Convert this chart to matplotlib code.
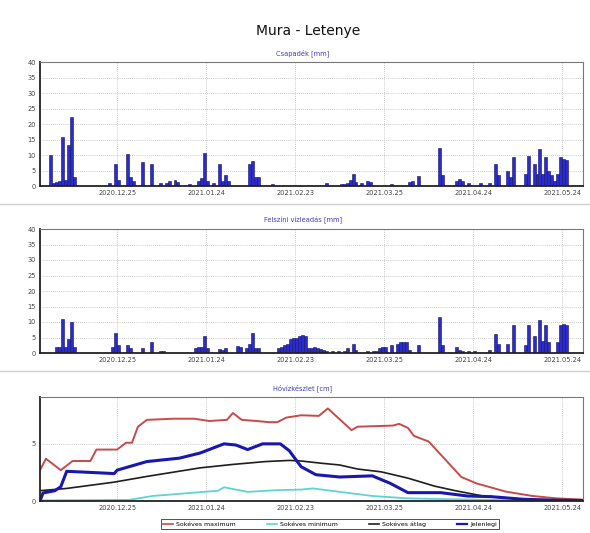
import matplotlib
matplotlib.use("Agg")
import matplotlib.pyplot as plt
from matplotlib.lines import Line2D
import pandas as pd

# ---- data -------------------------------------------------------------
station = "Mura - Letenye"
season_start = "2020-11-29"
season_end = "2021-05-31"
tick_dates = ["2020-12-25", "2021-01-24", "2021-02-23", "2021-03-25",
              "2021-04-24", "2021-05-24"]
tick_labels = ["2020.12.25", "2021.01.24", "2021.02.23", "2021.03.25",
               "2021.04.24", "2021.05.24"]

# daily precipitation (day offset from season start, mm)
precip_day = [3, 4, 5, 6, 7, 8, 9, 10, 11, 23, 25, 26, 29, 30, 31, 34, 37, 40,
              42, 43, 45, 46, 50, 53, 54, 55, 56, 58, 60, 61, 62, 63, 70, 71,
              72, 73, 78, 96, 101, 102, 103, 104, 105, 106, 108, 110, 111, 118,
              124, 125, 127, 134, 135, 140, 141, 142, 144, 148, 151, 153, 154,
              157, 158, 159, 163, 164, 166, 167, 168, 169, 170, 171, 172, 173,
              174, 175, 176, 177]
precip_mm = [10.0, 1.0, 1.2, 1.5, 15.7, 2.0, 13.2, 22.2, 3.0, 1.0, 7.0, 2.0,
             10.2, 3.0, 1.5, 7.6, 7.2, 1.0, 1.0, 1.5, 1.8, 1.2, 0.6, 1.5, 2.5,
             10.8, 1.5, 1.0, 7.0, 1.5, 3.5, 1.5, 7.0, 8.0, 3.0, 2.8, 0.6, 1.0,
             0.6, 0.8, 1.0, 2.0, 4.0, 1.2, 1.0, 1.5, 1.2, 0.5, 1.2, 1.5, 3.2,
             12.4, 3.5, 1.5, 2.4, 1.5, 1.0, 1.0, 1.0, 7.0, 3.5, 4.9, 3.0, 9.2,
             4.0, 9.7, 7.0, 4.0, 11.8, 4.0, 9.2, 5.0, 3.5, 1.5, 4.0, 9.2, 8.8,
             8.5]

# daily surface water release (day offset, mm)
release_day = [5, 6, 7, 8, 9, 10, 11, 24, 25, 26, 29, 30, 34, 37, 40, 41, 52,
               53, 54, 55, 56, 60, 61, 62, 66, 67, 69, 70, 71, 72, 73, 80, 81,
               82, 83, 84, 85, 86, 87, 88, 89, 90, 91, 92, 93, 94, 95, 96, 98,
               100, 102, 103, 105, 106, 110, 112, 113, 114, 115, 116, 118, 120,
               121, 122, 123, 124, 127, 134, 135, 140, 141, 142, 144, 146, 151,
               153, 154, 157, 159, 163, 164, 166, 168, 169, 170, 171, 174, 175,
               176, 177]
release_mm = [2.0, 2.0, 10.9, 2.0, 4.6, 10.0, 2.0, 2.0, 6.6, 2.5, 2.7, 1.5,
              1.5, 3.4, 0.5, 0.5, 1.5, 2.0, 2.0, 5.5, 1.5, 1.2, 1.0, 1.5, 2.2,
              2.0, 1.5, 3.0, 6.5, 1.5, 1.5, 1.5, 2.0, 2.5, 3.0, 4.5, 4.8, 5.0,
              5.5, 5.7, 5.5, 1.5, 1.5, 2.0, 1.5, 1.2, 1.0, 0.5, 0.5, 0.5, 0.5,
              1.5, 3.0, 1.0, 0.5, 0.5, 0.5, 1.5, 2.0, 2.0, 2.5, 3.0, 3.5, 3.5,
              3.5, 1.0, 2.5, 11.7, 2.5, 2.0, 1.0, 0.8, 0.8, 0.8, 1.0, 6.0, 3.0,
              3.0, 9.0, 2.5, 9.0, 5.5, 10.6, 4.0, 9.0, 3.5, 3.5, 9.0, 9.2, 9.0]

# snow water storage (day offset, cm)
max_day = [0, 2, 7, 11, 17, 19, 26, 29, 31, 33, 36, 45, 52, 57, 63, 65, 68, 73,
           77, 80, 83, 88, 94, 97, 105, 107, 119, 121, 124, 126, 131, 142, 147,
           157, 166, 174, 183]
max_cm = [2.7, 3.7, 2.7, 3.5, 3.5, 4.5, 4.5, 5.1, 5.1, 6.5, 7.1, 7.2, 7.2, 7.0,
          7.1, 7.7, 7.1, 7.0, 6.9, 6.9, 7.3, 7.5, 7.45, 8.1, 6.2, 6.5, 6.6,
          6.75, 6.4, 5.7, 5.2, 2.1, 1.55, 0.82, 0.44, 0.23, 0.12]

min_day = [0, 30, 38, 49, 60, 62, 70, 80, 88, 92, 101, 112, 124, 140, 160, 183]
min_cm = [0.05, 0.1, 0.44, 0.67, 0.9, 1.2, 0.8, 0.95, 1.0, 1.1, 0.8, 0.44,
          0.23, 0.15, 0.06, 0.02]

avg_day = [0, 9, 25, 36, 54, 65, 76, 84, 88, 95, 101, 107, 115, 124, 133, 140,
           149, 163, 183]
avg_cm = [0.9, 1.1, 1.65, 2.15, 2.9, 3.2, 3.45, 3.55, 3.5, 3.3, 3.15, 2.8,
          2.55, 2.0, 1.3, 0.9, 0.45, 0.15, 0.04]

cur_day = [0, 1, 5, 7, 9, 25, 26, 30, 36, 47, 54, 62, 66, 70, 75, 81, 84, 88,
           93, 101, 112, 118, 124, 135, 144, 152, 163, 172, 183]
cur_cm = [0.0, 0.7, 0.9, 1.25, 2.6, 2.4, 2.7, 3.0, 3.45, 3.75, 4.2, 5.0, 4.9,
          4.5, 5.0, 5.0, 4.4, 3.0, 2.3, 2.1, 2.2, 1.55, 0.73, 0.73, 0.44, 0.38,
          0.15, 0.08, 0.04]

panel_titles = ["Csapadék [mm]", "Felszíni vízleadás [mm]", "Hóvízkészlet [cm]"]
legend_labels = ["Sokéves maximum", "Sokéves minimum", "Sokéves átlag",
                 "Jelenlegi"]

# ---- helpers ----------------------------------------------------------
start = pd.Timestamp(season_start)


def to_dates(days):
    return start + pd.to_timedelta(days, unit="D")


ticks = pd.to_datetime(tick_dates)
xlim = (pd.Timestamp(season_start), pd.Timestamp(season_end))

W, H = 590, 533
fig = plt.figure(figsize=(W / 100, H / 100), dpi=100)
fig.patch.set_facecolor("white")


def frac_axes(left, top, right, bottom):
    return fig.add_axes([left / W, 1 - bottom / H, (right - left) / W,
                         (bottom - top) / H])


def style_axes(ax):
    ax.set_xlim(*xlim)
    ax.set_xticks(ticks)
    ax.set_xticklabels(tick_labels)
    ax.tick_params(axis="both", labelsize=4.8, colors="#444444", length=0,
                   pad=3)
    ax.grid(True, color="#b8b8b8", linestyle=(0, (1, 1.5)), linewidth=0.6)
    ax.set_axisbelow(True)
    for side in ("left", "bottom"):
        ax.spines[side].set_color("#222222")
        ax.spines[side].set_linewidth(1.3)
    for side in ("top", "right"):
        ax.spines[side].set_color("#777777")
        ax.spines[side].set_linewidth(0.8)


title_color = "#3b3bc4"
bar_face = "#2b2bd6"
bar_edge = "#111155"

# precipitation
ax1 = frac_axes(40, 62, 583, 186)
ax1.bar(to_dates(precip_day), precip_mm, width=1.0, align="edge",
        color=bar_face, edgecolor=bar_edge, linewidth=0.4)
ax1.set_ylim(0, 40)
ax1.set_yticks(range(0, 41, 5))
style_axes(ax1)

# surface water release
ax2 = frac_axes(40, 229, 583, 353)
ax2.bar(to_dates(release_day), release_mm, width=1.0, align="edge",
        color=bar_face, edgecolor=bar_edge, linewidth=0.4)
ax2.set_ylim(0, 40)
ax2.set_yticks(range(0, 41, 5))
style_axes(ax2)

# snow water storage
ax3 = frac_axes(40, 397, 583, 501)
ax3.plot(to_dates(max_day), max_cm, color="#c84a4a", linewidth=1.4)
ax3.plot(to_dates(min_day), min_cm, color="#5fd3d3", linewidth=1.3)
ax3.plot(to_dates(avg_day), avg_cm, color="#1e1e1e", linewidth=1.2)
ax3.plot(to_dates(cur_day), cur_cm, color="#1818b0", linewidth=2.2)
ax3.set_ylim(0, 9.1)
ax3.set_yticks([0, 5])
style_axes(ax3)

# titles
fig.text(308 / W, 1 - 31 / H, station, ha="center", va="center",
         fontsize=10, color="#111111")
for ypix, txt in zip([53, 220, 388], panel_titles):
    fig.text(303 / W, 1 - ypix / H, txt, ha="center", va="center",
             fontsize=4.8, color=title_color)

# thin separators between panels
for ypix in (204, 371):
    fig.add_artist(Line2D([0.0, 1.0], [1 - ypix / H, 1 - ypix / H],
                          color="#d0d0d0", linewidth=1.0))

handles = [Line2D([], [], color=c, linewidth=lw) for c, lw in
           [("#c84a4a", 1.2), ("#5fd3d3", 1.2), ("#1e1e1e", 1.2),
            ("#1818b0", 1.6)]]
leg = fig.legend(handles, legend_labels, loc="center",
                 bbox_to_anchor=(330 / W, 1 - 524 / H), ncol=4, fontsize=4.5,
                 frameon=True, fancybox=False, handlelength=1.6,
                 columnspacing=5.0, borderpad=0.3, handletextpad=0.5)
leg.get_frame().set_edgecolor("#222222")
leg.get_frame().set_linewidth(0.7)

fig.savefig("out.png", dpi=100)
